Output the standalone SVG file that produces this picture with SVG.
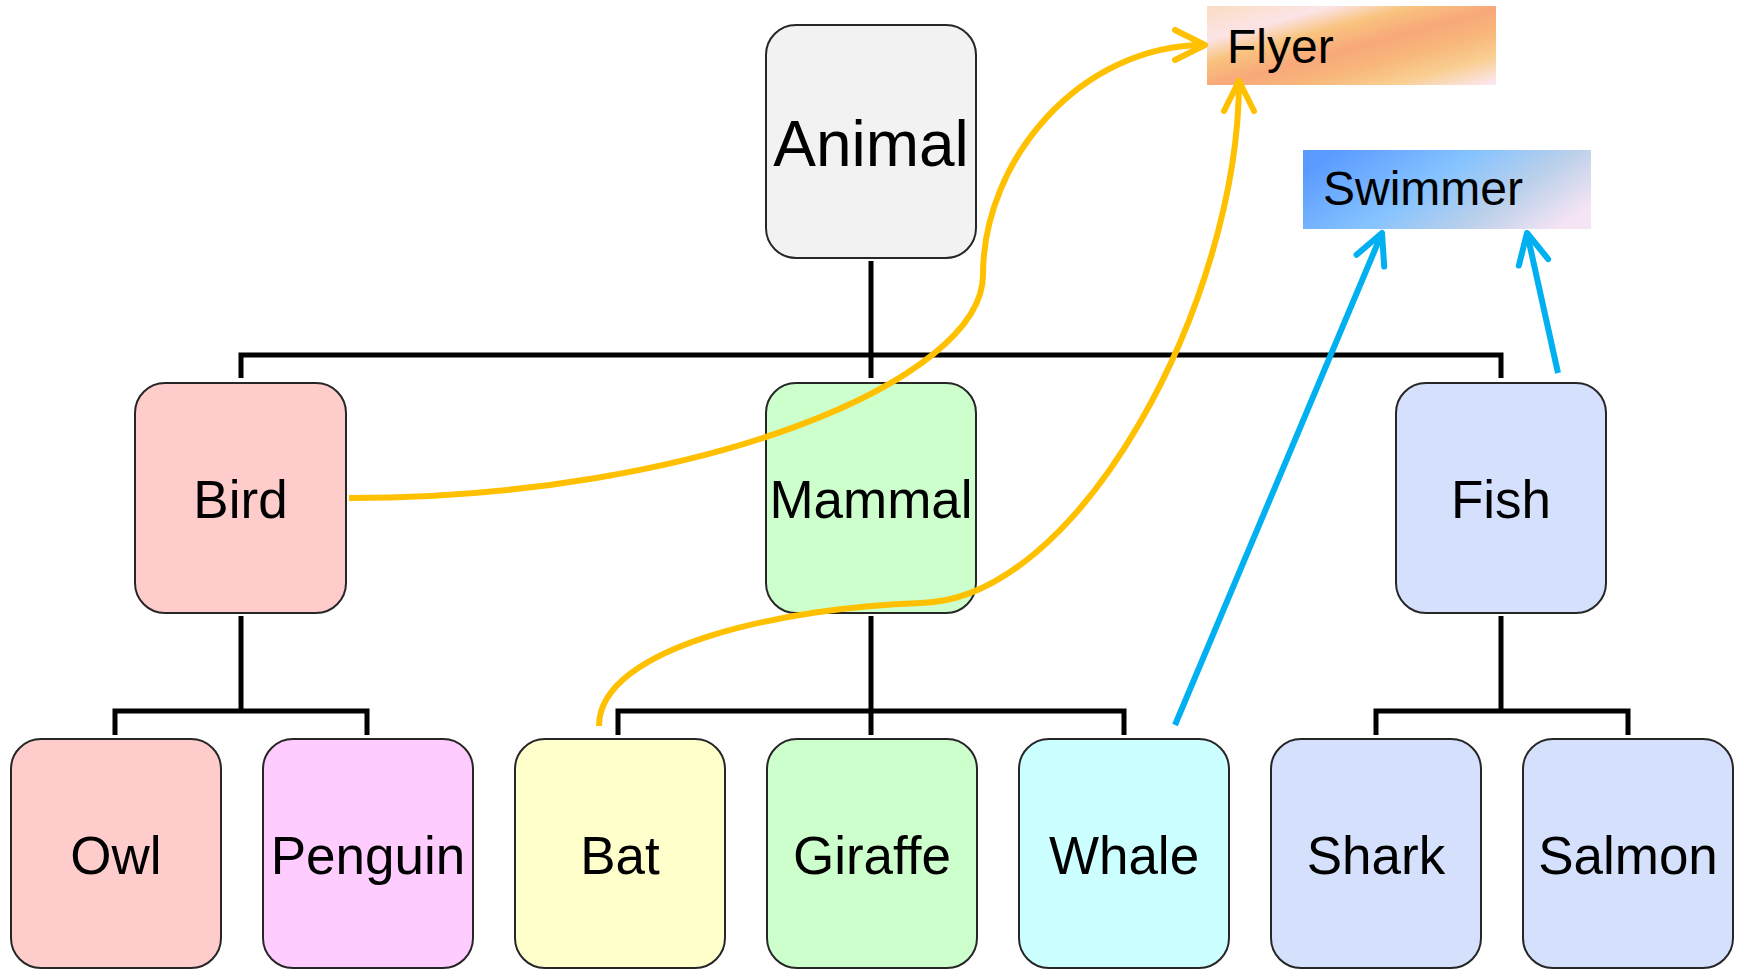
<svg xmlns="http://www.w3.org/2000/svg" width="1741" height="970" viewBox="0 0 1741 970">
<style>
.node rect{stroke:#262626;stroke-width:2}
.lbl{font-family:"Liberation Sans",Arial,sans-serif;font-size:53px;fill:#000;text-anchor:middle}
.tree{fill:none;stroke:#000;stroke-width:5;stroke-linejoin:miter;stroke-linecap:butt}
.fly{fill:none;stroke:#FFC000;stroke-width:6;stroke-linecap:butt}
.swim{fill:none;stroke:#00B0F0;stroke-width:6;stroke-linecap:butt}
.tag{font-family:"Liberation Sans",Arial,sans-serif;font-size:48px;fill:#000}
</style>
<defs>
<linearGradient id="gFly" gradientUnits="userSpaceOnUse" x1="1331" y1="-28" x2="1371" y2="118">
<stop offset="0" stop-color="#FBDDC2"/>
<stop offset="0.22" stop-color="#FBE4E6"/>
<stop offset="0.36" stop-color="#F9C37E"/>
<stop offset="0.52" stop-color="#F8A87A"/>
<stop offset="0.66" stop-color="#F8B67A"/>
<stop offset="0.82" stop-color="#F9CE90"/>
<stop offset="1" stop-color="#FCE8F2"/>
</linearGradient>
<linearGradient id="gSwim" x1="0" y1="0.3" x2="1" y2="0.7">
<stop offset="0" stop-color="#5B9BFF"/>
<stop offset="0.42" stop-color="#86C3FF"/>
<stop offset="0.72" stop-color="#BBD0EA"/>
<stop offset="1" stop-color="#F4E4F4"/>
</linearGradient>
<marker id="aY" markerUnits="userSpaceOnUse" viewBox="-36 -20 40 40" markerWidth="40" markerHeight="40" refX="0" refY="0" orient="auto" overflow="visible">
<path d="M-30,-15 L0,0 L-30,15" fill="none" stroke="#FFC000" stroke-width="6" stroke-linecap="round" stroke-linejoin="round"/>
</marker>
<marker id="aB" markerUnits="userSpaceOnUse" viewBox="-36 -20 40 40" markerWidth="40" markerHeight="40" refX="0" refY="0" orient="auto" overflow="visible">
<path d="M-30,-15 L0,0 L-30,15" fill="none" stroke="#00B0F0" stroke-width="6" stroke-linecap="round" stroke-linejoin="round"/>
</marker>
</defs>
<rect width="1741" height="970" fill="#fff"/>

<g id="flyer">
<rect x="1207" y="6" width="289" height="79" fill="url(#gFly)"/>
<text class="tag" x="1227" y="63">Flyer</text>
</g>
<g id="swimmer">
<rect x="1303" y="150" width="288" height="79" fill="url(#gSwim)"/>
<text class="tag" x="1323" y="205">Swimmer</text>
</g>

<g id="animal" class="node">
<rect x="766" y="25" width="210" height="233" rx="30" fill="#F2F2F2"/>
<text class="lbl" x="871" y="166" style="font-size:64px">Animal</text>
</g>
<g id="bird" class="node">
<rect x="135" y="383" width="211" height="230" rx="30" fill="#FFCCCC"/>
<text class="lbl" x="240.5" y="518">Bird</text>
</g>
<g id="mammal" class="node">
<rect x="766" y="383" width="210" height="230" rx="30" fill="#CCFFCC"/>
<text class="lbl" x="871" y="518">Mammal</text>
</g>
<g id="fish" class="node">
<rect x="1396" y="383" width="210" height="230" rx="30" fill="#D4E0FC"/>
<text class="lbl" x="1501" y="518">Fish</text>
</g>
<g id="owl" class="node">
<rect x="11" y="739" width="210" height="229" rx="30" fill="#FFCCCC"/>
<text class="lbl" x="116" y="874">Owl</text>
</g>
<g id="penguin" class="node">
<rect x="263" y="739" width="210" height="229" rx="30" fill="#FFCCFF"/>
<text class="lbl" x="368" y="874">Penguin</text>
</g>
<g id="bat" class="node">
<rect x="515" y="739" width="210" height="229" rx="30" fill="#FFFFCC"/>
<text class="lbl" x="620" y="874">Bat</text>
</g>
<g id="giraffe" class="node">
<rect x="767" y="739" width="210" height="229" rx="30" fill="#CCFFCC"/>
<text class="lbl" x="872" y="874">Giraffe</text>
</g>
<g id="whale" class="node">
<rect x="1019" y="739" width="210" height="229" rx="30" fill="#CCFFFF"/>
<text class="lbl" x="1124" y="874">Whale</text>
</g>
<g id="shark" class="node">
<rect x="1271" y="739" width="210" height="229" rx="30" fill="#D4E0FC"/>
<text class="lbl" x="1376" y="874">Shark</text>
</g>
<g id="salmon" class="node">
<rect x="1523" y="739" width="210" height="229" rx="30" fill="#D4E0FC"/>
<text class="lbl" x="1628" y="874">Salmon</text>
</g>

<g id="connectors">
<path class="tree" d="M871,261 V378"/>
<path class="tree" d="M241,378 V355 H1501 V378"/>
<path class="tree" d="M241,616 V711"/>
<path class="tree" d="M115,735 V711 H367 V735"/>
<path class="tree" d="M871,616 V735"/>
<path class="tree" d="M618,735 V711 H1124 V735"/>
<path class="tree" d="M1501,616 V711"/>
<path class="tree" d="M1376,735 V711 H1628 V735"/>
<path class="fly" d="M349,498 C700,498 983,380 983,275 C983,160 1080,45 1205,45" marker-end="url(#aY)"/>
<path class="fly" d="M599,726 C599,645 790,607 921,603 C1080,600 1239,300 1239,81" marker-end="url(#aY)"/>
<path class="swim" d="M1175,725 L1382,233" marker-end="url(#aB)"/>
<path class="swim" d="M1558,373 L1527,233" marker-end="url(#aB)"/>
</g>
</svg>
